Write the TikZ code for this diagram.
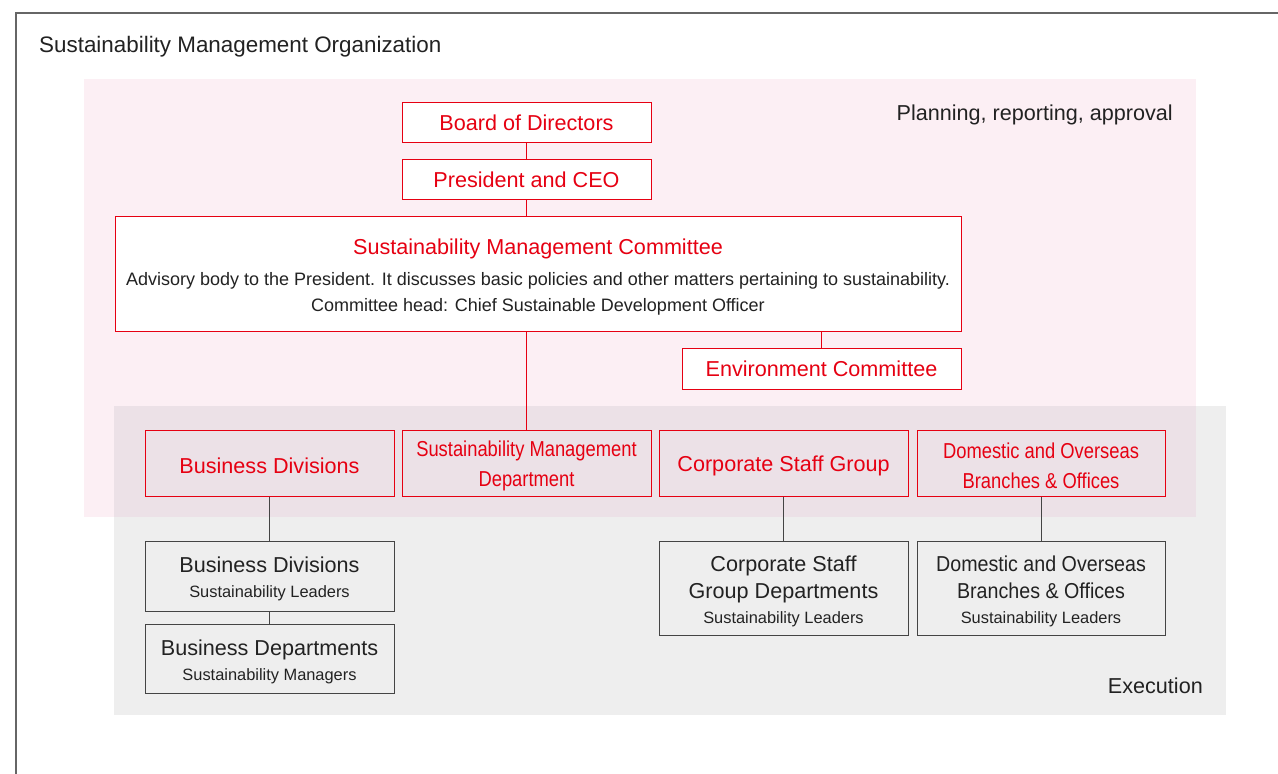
\documentclass[tikz,border=0pt]{standalone}
\usepackage{fontspec}
\setmainfont{Liberation Sans}
\definecolor{sred}{HTML}{E60012}
\definecolor{pinkbg}{HTML}{FCEFF4}
\definecolor{graybg}{HTML}{EEEEEE}
\definecolor{overbg}{HTML}{ECE1E7}
\definecolor{txt}{HTML}{222222}
\definecolor{framec}{HTML}{666666}
\definecolor{grayline}{HTML}{444444}
\newcommand{\cond}[1]{\scalebox{0.85}[1]{#1}}
\newcommand{\semicond}[1]{\scalebox{0.91}[1]{#1}}
\newcommand{\tstrut}{\rule{0pt}{22pt}}
\newcommand{\sstrut}{\rule{0pt}{17.5pt}}
\begin{document}
\begin{tikzpicture}[x=1pt,y=-1pt,
  redbox/.style={draw=sred, line width=1pt, text=sred, align=center, inner sep=0pt, font=\fontsize{21.6}{30}\selectfont},
  topbox/.style={redbox, fill=white},
  graybox/.style={draw=grayline, line width=1pt, text=txt, align=center, inner sep=0pt, font=\fontsize{21.6}{25}\selectfont},
  redlink/.style={draw=sred, line width=1pt},
  graylink/.style={draw=grayline, line width=1pt},
  plain/.style={text=txt, inner sep=0pt, font=\fontsize{21.6}{26}\selectfont}
]
\useasboundingbox (0,0) rectangle (1278,774);
\clip (0,0) rectangle (1278,774);
\fill[white] (0,0) rectangle (1278,774);
\draw[framec, line width=1.5pt] (16,13) rectangle (1300,800);
% backgrounds
\fill[pinkbg] (84,79) rectangle (1196,517);
\fill[graybg] (114,406) rectangle (1226,715);
\fill[overbg] (114,406) rectangle (1196,517);

\node[plain, anchor=west, font=\fontsize{22.4}{26}\selectfont] (title) at (39,46.5) {Sustainability Management Organization};
\node[plain, anchor=east] (plan) at (1173,115) {Planning, reporting, approval};
\node[plain, anchor=east] (exec) at (1203,686) {Execution};

\node[topbox, minimum width=249, minimum height=40] (board) at (526.5,122) {\sstrut Board of Directors};
\node[topbox, minimum width=249, minimum height=40] (ceo) at (526.5,179) {\sstrut President and CEO};
\node[topbox, minimum width=846, minimum height=115, text=txt, font=\fontsize{18}{26}\selectfont] (smc) at (538,273.5)
  {\tstrut\textcolor{sred}{\fontsize{21.6}{26}\selectfont Sustainability Management Committee}\\[5pt]
   Advisory body to the President. It discusses basic policies and other matters pertaining to sustainability.\\
   Committee head: Chief Sustainable Development Officer};
\node[topbox, minimum width=279, minimum height=41] (env) at (821.5,368.5) {Environment Committee};

\node[redbox, minimum width=249, minimum height=66] (bd) at (269.5,463) {\tstrut Business Divisions};
\node[redbox, minimum width=249, minimum height=66] (smd) at (526.5,463) {\tstrut\cond{Sustainability Management}\\\cond{Department}};
\node[redbox, minimum width=249, minimum height=66] (csg) at (783.5,463) {\tstrut Corporate Staff Group};
\node[redbox, minimum width=248, minimum height=66] (dob) at (1041,463) {\tstrut\cond{Domestic and Overseas}\\\cond{Branches \& Offices}};

\node[graybox, minimum width=249, minimum height=70] (bdl) at (269.5,576) {\tstrut Business Divisions\\{\fontsize{16.4}{20}\selectfont Sustainability Leaders}};
\node[graybox, minimum width=249, minimum height=69] (bdm) at (269.5,658.5) {\tstrut Business Departments\\{\fontsize{16.4}{20}\selectfont Sustainability Managers}};
\node[graybox, minimum width=249, minimum height=94, font=\fontsize{21.6}{27}\selectfont] (csd) at (783.5,588) {\tstrut Corporate Staff\\Group Departments\\[-2pt]{\fontsize{16.4}{20}\selectfont Sustainability Leaders}};
\node[graybox, minimum width=248, minimum height=94, font=\fontsize{21.6}{27}\selectfont] (dobl) at (1041,588) {\tstrut\semicond{Domestic and Overseas}\\\semicond{Branches \& Offices}\\[-2pt]{\fontsize{16.4}{20}\selectfont Sustainability Leaders}};

\draw[redlink] (board.south) -- (ceo.north);
\draw[redlink] (ceo.south) -- (ceo.south |- smc.north);
\draw[redlink] (smd.north |- smc.south) -- (smd.north);
\draw[redlink] (env.north |- smc.south) -- (env.north);
\draw[graylink] (bd.south) -- (bdl.north);
\draw[graylink] (bdl.south) -- (bdm.north);
\draw[graylink] (csg.south) -- (csd.north);
\draw[graylink] (dob.south) -- (dobl.north);
\end{tikzpicture}
\end{document}
